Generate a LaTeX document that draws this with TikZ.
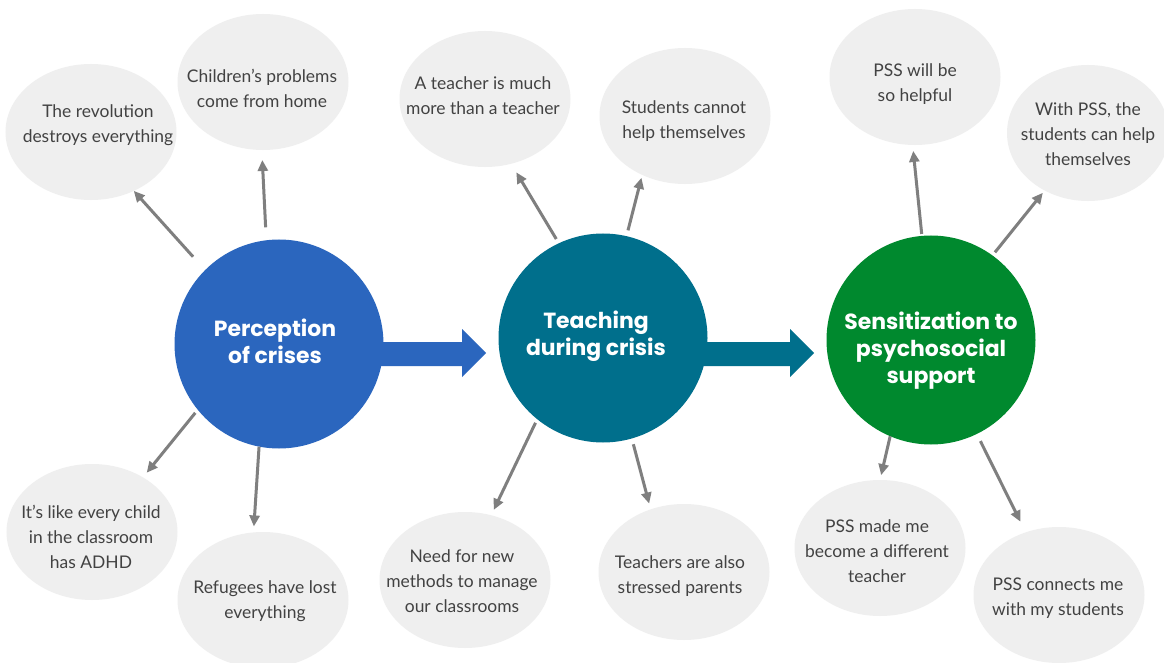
\documentclass[tikz,border=0pt]{standalone}
\usepackage{fontspec}
\setmainfont{Lato}
\newfontfamily\headfont{Poppins}
\usetikzlibrary{arrows.meta,shapes.geometric,calc}

\definecolor{bluec}{HTML}{2B66BE}
\definecolor{tealc}{HTML}{006F8C}
\definecolor{greenc}{HTML}{00892E}
\definecolor{bubblec}{HTML}{EFEFEF}
\definecolor{connc}{HTML}{7F7F7F}
\definecolor{txtc}{HTML}{424242}

\tikzset{
  hub/.style={circle, minimum size=209bp, inner sep=0pt, outer sep=0pt},
  hublabel/.style={align=center, text=white, inner sep=0pt,
    font=\headfont\bfseries\fontsize{22}{27}\selectfont},
  bubble/.style={ellipse, fill=bubblec, minimum width=171bp, minimum height=136bp,
    inner sep=0pt, outer sep=0pt},
  quote/.style={align=center, text=txtc, inner sep=0pt,
    font=\fontsize{17.5}{25}\selectfont},
  conn/.style={draw=connc, line width=3bp, -{Triangle[length=11bp,width=10bp]}}
}

\begin{document}
\begin{tikzpicture}[x=1bp,y=-1bp]
\useasboundingbox (0,0) rectangle (1164,663);
\fill[white] (0,0) rectangle (1164,663);

% quotation bubbles
\node[bubble] (e1) at (91,132) {};
\node[bubble] (e2) at (263,82) {};
\node[bubble] (e3) at (485,99) {};
\node[bubble] (e4) at (685,116) {};
\node[bubble] (e5) at (915,77) {};
\node[bubble, minimum width=162bp] (e6) at (1088,133) {};
\node[bubble] (e7) at (92,532) {};
\node[bubble] (e8) at (263,600) {};
\node[bubble] (e9) at (465,580) {};
\node[bubble] (e10) at (684,572) {};
\node[bubble] (e11) at (880,548) {};
\node[bubble] (e12) at (1059,595) {};

\node[quote] (q1) at (98,125) {The revolution\\destroys everything};
\node[quote] (q2) at (262,88) {Children’s problems\\come from home};
\node[quote] (q3) at (483,96) {A teacher is much\\more than a teacher};
\node[quote] (q4) at (684,121) {Students cannot\\help themselves};
\node[quote] (q5) at (915,84) {PSS will be\\so helpful};
\node[quote] (q6) at (1088,134) {With PSS, the\\students can help\\themselves};
\node[quote] (q7) at (91,537) {It’s like every child\\in the classroom\\has ADHD};
\node[quote] (q8) at (265,601) {Refugees have lost\\everything};
\node[quote] (q9) at (462,581) {Need for new\\methods to manage\\our classrooms};
\node[quote] (q10) at (680,576) {Teachers are also\\stressed parents};
\node[quote] (q11) at (877,551) {PSS made me\\become a different\\teacher};
\node[quote] (q12) at (1058,598) {PSS connects me\\with my students};

% block arrows between the three stages
\fill[bluec] (370,342) -- (462,342) -- (462,329) -- (486,353) -- (462,377)
  -- (462,366) -- (370,366) -- cycle;
\fill[tealc] (700,342) -- (790,342) -- (790,329) -- (814,353) -- (790,377)
  -- (790,366) -- (700,366) -- cycle;

% the three stages
\node[hub, fill=bluec] (P) at (279,344) {};
\node[hub, fill=tealc] (T) at (603,338) {};
\node[hub, fill=greenc] (S) at (931,340) {};

\node[hublabel] (Pl) at (275,341) {Perception\\of crises};
\node[hublabel] (Tl) at (596,336) {Teaching\\during crisis};
\node[hublabel] (Sl) at (931,351) {Sensitization to\\psychosocial\\support};

% connectors from each stage to its quotations
\draw[conn, shorten <=18bp] (P.135) -- (e1.-54);
\draw[conn, shorten <=13bp, shorten >=10bp] (P.97) -- (e2.-91);
\draw[conn, shorten <=4bp, shorten >=6bp] (P.-141) -- (e7.47);
\draw[conn, shorten >=6bp] (P.-101) -- (e8.98);

\draw[conn, shorten <=5bp, shorten >=10bp] (T.115) -- (e3.-68);
\draw[conn, shorten <=6bp, shorten >=3bp] (T.77) -- (e4.-126);
\draw[conn, shorten <=4bp, shorten >=6bp] (T.-129) -- (e9.68);
\draw[conn, shorten <=6bp, shorten >=6bp] (T.-74) -- (e10.118);

\draw[conn, shorten <=2bp, shorten >=6bp] (S.95) -- (e5.-92);
\draw[conn, shorten <=4bp, shorten >=3bp] (S.54) -- (e6.-127);
\draw[conn, shorten >=5bp] (S.-113) -- (e11.90);
\draw[conn, shorten <=8bp, shorten >=12bp] (S.-64) -- (e12.118);
\end{tikzpicture}
\end{document}
